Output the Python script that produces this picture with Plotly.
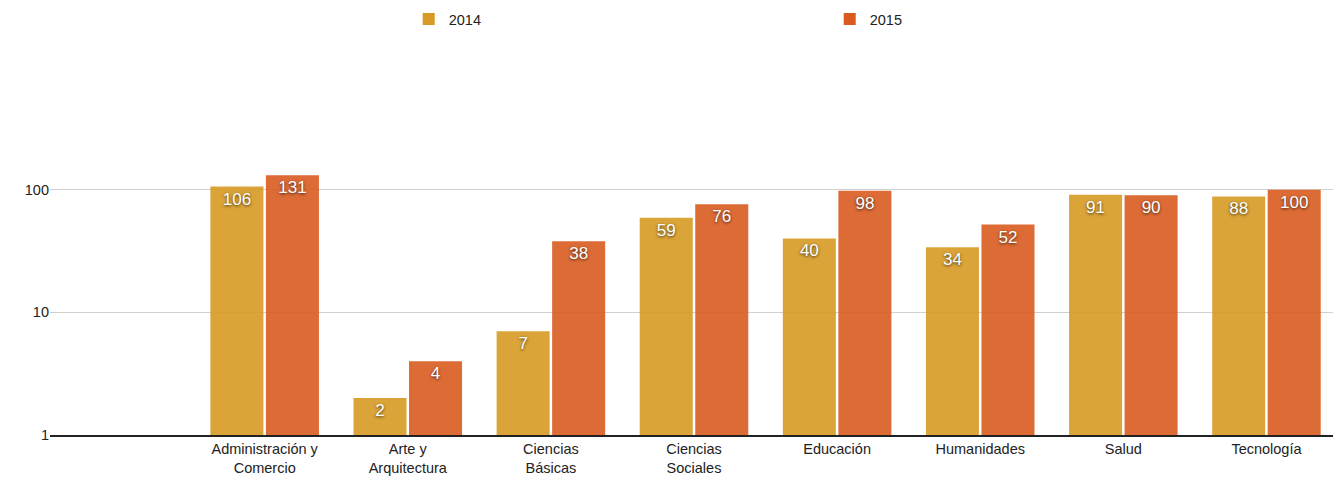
import plotly.graph_objects as go

categories = ["Administración y<br>Comercio", "Arte y<br>Arquitectura", "Ciencias<br>Básicas",
              "Ciencias<br>Sociales", "Educación", "Humanidades", "Salud", "Tecnología"]
values_2014 = [106, 2, 7, 59, 40, 34, 91, 88]
values_2015 = [131, 4, 38, 76, 98, 52, 90, 100]
y_ticks = [1, 10, 100]

FONT = "Liberation Sans, Arial, Helvetica, sans-serif"
shadow = "0px 1px 3px rgba(0,0,0,0.7)"

fig = go.Figure()
for name, vals, col in [("2014", values_2014, "rgb(215,154,36)"),
                        ("2015", values_2015, "rgb(217,91,32)")]:
    fig.add_trace(go.Bar(
        name=name, x=categories, y=vals, text=[str(v) for v in vals],
        textposition="inside", insidetextanchor="end", constraintext="none",
        insidetextfont=dict(color="white", size=17, family=FONT, shadow=shadow),
        marker=dict(color=col, opacity=0.9, line=dict(width=0)),
    ))

# page body has an 8px default margin; figure sized to fit the window
fig.update_layout(
    width=1333, height=469,
    margin=dict(l=42, r=3, t=59, b=42, autoexpand=False),
    paper_bgcolor="white", plot_bgcolor="white",
    barmode="group", bargap=0.224, bargroupgap=0.045,
    font=dict(family=FONT, size=14.5, color="#222"),
    showlegend=True,
    legend=dict(orientation="h", x=0.2785, xanchor="left",
                y=0.9765, yref="container", yanchor="middle",
                entrywidth=376, entrywidthmode="pixels",
                font=dict(size=14.5, color="#222"), bgcolor="rgba(0,0,0,0)"),
    xaxis=dict(type="category", range=[-1.5, 7.5], showgrid=False, automargin=False,
               showline=True, linecolor="#222", linewidth=1.5,
               ticks="", tickfont=dict(size=14.5, color="#222")),
    yaxis=dict(type="log", range=[0, 3], tickvals=y_ticks, ticktext=[str(t) for t in y_ticks],
               showgrid=True, gridcolor="#d0d0d0", gridwidth=1, zeroline=False, automargin=False,
               showline=False, ticks="", tickfont=dict(size=14.5, color="#222"),
               layer="above traces"),
)

fig.write_html("out.html")
